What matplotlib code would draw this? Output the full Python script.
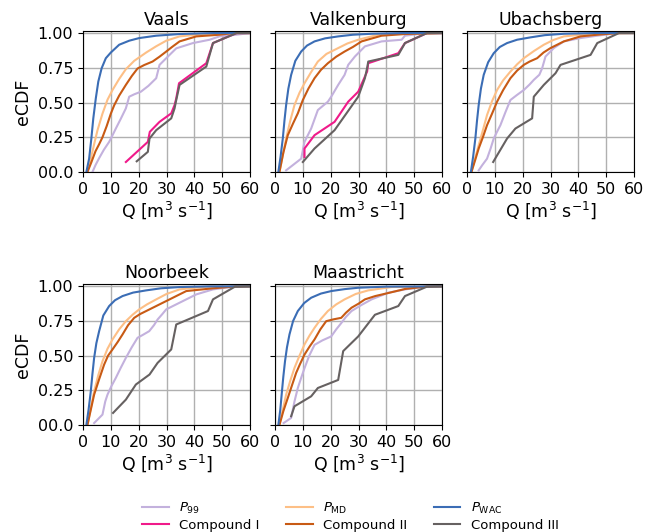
import matplotlib
matplotlib.use("Agg")
import matplotlib.pyplot as plt

# ---------------- data (Q in m3/s, eCDF) ----------------
sites = ["Vaals", "Valkenburg", "Ubachsberg", "Noorbeek", "Maastricht"]

# Vaals
vaals_p99_q = [3.4, 4.5, 5.8, 7.5, 9.4, 10.5, 11.8, 13.5, 15.4, 16.6, 18.5, 20.8, 23.5, 26.3, 27.5, 29.9, 33.5, 39.5, 45.5, 49.0, 55.0, 60.0]
vaals_p99_f = [0.0, 0.05, 0.10, 0.16, 0.217, 0.26, 0.313, 0.38, 0.458, 0.542, 0.56, 0.578, 0.62, 0.675, 0.771, 0.819, 0.89, 0.928, 0.952, 0.976, 0.988, 1.0]
vaals_c1_q = [15.4, 23.3, 24.0, 27.5, 31.7, 32.9, 33.5, 34.5, 44.3, 46.7, 55.2, 60.0]
vaals_c1_f = [0.072, 0.217, 0.289, 0.361, 0.422, 0.482, 0.53, 0.639, 0.783, 0.928, 1.0, 1.0]
vaals_md_q = [1.6, 2.8, 4.0, 5.2, 7.0, 8.8, 10.6, 13.0, 15.4, 18.4, 22.7, 26.3, 29.9, 34.7, 43.0, 54.0, 60.0]
vaals_md_f = [0.0, 0.096, 0.20, 0.30, 0.42, 0.52, 0.59, 0.67, 0.74, 0.80, 0.86, 0.905, 0.945, 0.976, 0.993, 1.0, 1.0]
vaals_c2_q = [1.6, 3.0, 4.5, 5.8, 7.0, 8.5, 10.0, 11.2, 13.0, 15.4, 17.5, 19.6, 22.0, 25.0, 27.5, 29.9, 32.0, 34.7, 40.7, 49.0, 54.0, 60.0]
vaals_c2_f = [0.0, 0.07, 0.15, 0.20, 0.25, 0.33, 0.42, 0.48, 0.55, 0.627, 0.69, 0.745, 0.77, 0.795, 0.83, 0.867, 0.90, 0.94, 0.976, 0.988, 1.0, 1.0]
vaals_wac_q = [1.2, 2.2, 3.0, 3.7, 4.6, 5.5, 6.7, 8.2, 10.0, 13.0, 16.6, 20.2, 26.3, 34.7, 46.7, 62.0]
vaals_wac_f = [0.0, 0.096, 0.241, 0.386, 0.53, 0.651, 0.747, 0.819, 0.86, 0.916, 0.945, 0.964, 0.981, 0.993, 1.0, 1.0]
vaals_c3_q = [19.3, 23.3, 23.9, 26.3, 31.7, 32.9, 33.5, 34.7, 44.3, 46.7, 55.2, 60.0]
vaals_c3_f = [0.077, 0.145, 0.241, 0.301, 0.386, 0.458, 0.518, 0.627, 0.759, 0.928, 1.0, 1.0]

# Valkenburg
valk_p99_q = [4.0, 9.4, 10.6, 13.0, 15.4, 19.0, 20.2, 22.7, 25.0, 26.3, 28.7, 32.3, 38.3, 45.5, 46.7, 54.0, 60.0]
valk_p99_f = [0.012, 0.096, 0.217, 0.313, 0.446, 0.506, 0.542, 0.627, 0.699, 0.771, 0.831, 0.904, 0.94, 0.952, 0.981, 1.0, 1.0]
valk_c1_q = [10.6, 10.6, 14.2, 21.4, 26.3, 29.9, 32.3, 33.1, 33.5, 44.3, 46.7, 54.6, 60.0]
valk_c1_f = [0.108, 0.169, 0.265, 0.361, 0.506, 0.578, 0.687, 0.723, 0.783, 0.855, 0.928, 1.0, 1.0]
valk_md_q = [1.6, 2.8, 4.0, 5.5, 7.0, 8.8, 10.6, 13.0, 15.4, 18.5, 22.7, 26.0, 29.9, 37.1, 46.7, 60.0]
valk_md_f = [0.0, 0.12, 0.241, 0.37, 0.482, 0.57, 0.639, 0.72, 0.795, 0.85, 0.892, 0.925, 0.952, 0.988, 0.998, 1.0]
valk_c2_q = [1.6, 3.0, 4.6, 6.5, 8.2, 10.0, 12.0, 14.2, 16.5, 19.0, 22.0, 25.0, 28.0, 31.1, 38.3, 46.7, 60.0]
valk_c2_f = [0.0, 0.14, 0.265, 0.35, 0.422, 0.518, 0.60, 0.675, 0.735, 0.783, 0.83, 0.867, 0.90, 0.94, 0.981, 0.993, 1.0]
valk_wac_q = [1.2, 2.0, 2.8, 3.4, 4.0, 4.8, 5.8, 7.3, 9.4, 11.5, 14.2, 18.0, 22.7, 28.0, 34.7, 46.0, 62.0]
valk_wac_f = [0.0, 0.11, 0.241, 0.37, 0.482, 0.60, 0.699, 0.80, 0.867, 0.91, 0.94, 0.962, 0.976, 0.988, 0.995, 1.0, 1.0]
valk_c3_q = [10.0, 14.2, 21.4, 29.9, 32.3, 33.2, 33.5, 44.3, 46.7, 54.6, 60.0]
valk_c3_f = [0.072, 0.169, 0.301, 0.542, 0.675, 0.759, 0.795, 0.843, 0.928, 1.0, 1.0]

# Ubachsberg
ubach_p99_q = [4.2, 5.5, 7.2, 8.5, 9.6, 10.8, 12.0, 13.8, 15.6, 18.0, 20.4, 22.5, 24.0, 26.0, 27.0, 28.2, 31.2, 34.8, 40.8, 46.8, 54.0, 60.0]
ubach_p99_f = [0.012, 0.05, 0.096, 0.17, 0.241, 0.29, 0.337, 0.43, 0.518, 0.555, 0.59, 0.63, 0.663, 0.70, 0.747, 0.831, 0.892, 0.94, 0.964, 0.981, 1.0, 1.0]
ubach_md_q = [1.6, 2.8, 4.2, 5.7, 7.2, 9.0, 10.8, 13.0, 15.6, 18.0, 20.4, 24.0, 27.6, 31.0, 34.8, 44.4, 60.0]
ubach_md_f = [0.0, 0.09, 0.193, 0.30, 0.41, 0.51, 0.59, 0.66, 0.723, 0.775, 0.819, 0.87, 0.916, 0.95, 0.976, 0.995, 1.0]
ubach_c2_q = [1.6, 3.0, 4.2, 5.7, 7.2, 9.0, 10.8, 13.0, 15.6, 18.0, 20.4, 22.5, 25.2, 27.5, 30.0, 34.8, 40.8, 46.8, 54.0, 60.0]
ubach_c2_f = [0.0, 0.09, 0.169, 0.25, 0.337, 0.42, 0.506, 0.59, 0.675, 0.73, 0.771, 0.795, 0.819, 0.86, 0.892, 0.94, 0.976, 0.988, 1.0, 1.0]
ubach_wac_q = [1.4, 2.2, 3.0, 3.6, 4.2, 5.0, 6.0, 7.6, 9.6, 11.8, 14.4, 18.0, 22.8, 28.0, 34.8, 46.0, 62.0]
ubach_wac_f = [0.0, 0.11, 0.241, 0.37, 0.482, 0.60, 0.699, 0.79, 0.855, 0.90, 0.928, 0.952, 0.969, 0.985, 0.995, 1.0, 1.0]
ubach_c3_q = [9.4, 14.4, 17.4, 23.4, 24.0, 27.6, 31.8, 33.6, 44.4, 46.8, 54.6, 60.0]
ubach_c3_f = [0.072, 0.241, 0.313, 0.386, 0.542, 0.627, 0.711, 0.771, 0.843, 0.928, 1.0, 1.0]

# Noorbeek
noor_p99_q = [4.0, 7.0, 8.0, 8.8, 10.2, 11.8, 13.5, 15.4, 17.5, 19.6, 21.5, 23.8, 25.5, 26.8, 28.5, 29.9, 34.7, 40.7, 46.7, 54.0, 60.0]
noor_p99_f = [0.014, 0.075, 0.17, 0.219, 0.28, 0.34, 0.41, 0.484, 0.56, 0.629, 0.65, 0.677, 0.72, 0.761, 0.80, 0.834, 0.882, 0.942, 0.978, 0.998, 1.0]
noor_md_q = [1.6, 2.8, 4.0, 5.5, 7.0, 8.8, 10.6, 13.0, 15.4, 17.8, 20.2, 23.0, 26.3, 30.0, 34.7, 44.3, 60.0]
noor_md_f = [0.0, 0.12, 0.243, 0.36, 0.46, 0.55, 0.617, 0.69, 0.749, 0.795, 0.834, 0.87, 0.906, 0.945, 0.978, 0.998, 1.0]
noor_c2_q = [1.6, 2.8, 4.0, 5.8, 7.6, 9.0, 10.6, 12.5, 14.2, 16.2, 18.4, 20.5, 22.7, 25.0, 27.5, 30.0, 32.3, 37.1, 46.7, 54.0, 60.0]
noor_c2_f = [0.0, 0.11, 0.219, 0.33, 0.436, 0.50, 0.545, 0.60, 0.653, 0.72, 0.773, 0.80, 0.822, 0.845, 0.87, 0.895, 0.918, 0.966, 0.986, 0.998, 1.0]
noor_wac_q = [1.2, 2.0, 2.8, 3.4, 4.0, 4.8, 5.8, 7.3, 9.4, 11.5, 14.2, 18.0, 22.7, 28.0, 34.7, 46.0, 62.0]
noor_wac_f = [0.0, 0.11, 0.243, 0.37, 0.484, 0.59, 0.677, 0.79, 0.858, 0.90, 0.93, 0.955, 0.971, 0.986, 0.995, 1.0, 1.0]
noor_c3_q = [10.8, 15.4, 19.0, 23.9, 26.8, 31.7, 33.5, 44.9, 46.7, 54.6, 60.0]
noor_c3_f = [0.087, 0.183, 0.292, 0.364, 0.448, 0.545, 0.725, 0.822, 0.906, 0.998, 1.0]

# Maastricht
maas_p99_q = [3.1, 5.8, 7.0, 8.2, 9.4, 10.6, 12.3, 14.2, 17.0, 20.2, 22.0, 23.8, 25.5, 27.5, 31.0, 34.7, 40.7, 46.7, 54.0, 60.0]
maas_p99_f = [0.014, 0.051, 0.17, 0.267, 0.34, 0.41, 0.50, 0.578, 0.61, 0.639, 0.69, 0.735, 0.78, 0.822, 0.865, 0.906, 0.954, 0.978, 0.998, 1.0]
maas_md_q = [1.6, 2.8, 4.0, 5.5, 7.0, 8.8, 10.6, 12.4, 14.2, 16.5, 19.0, 22.0, 25.0, 29.0, 33.5, 41.9, 60.0]
maas_md_f = [0.0, 0.11, 0.219, 0.32, 0.412, 0.50, 0.581, 0.645, 0.701, 0.765, 0.822, 0.87, 0.906, 0.945, 0.971, 0.995, 1.0]
maas_c2_q = [1.6, 3.0, 4.6, 6.0, 7.6, 9.0, 10.6, 12.4, 14.2, 16.3, 18.4, 21.0, 23.8, 25.5, 27.5, 30.0, 32.3, 36.0, 40.7, 46.7, 54.0, 60.0]
maas_c2_f = [0.0, 0.10, 0.195, 0.28, 0.376, 0.44, 0.508, 0.565, 0.617, 0.69, 0.749, 0.762, 0.773, 0.81, 0.846, 0.875, 0.906, 0.93, 0.952, 0.981, 0.998, 1.0]
maas_wac_q = [1.2, 1.9, 2.5, 3.0, 3.6, 4.3, 5.2, 6.5, 8.2, 10.5, 13.0, 16.5, 20.2, 25.0, 29.9, 40.0, 62.0]
maas_wac_f = [0.0, 0.11, 0.243, 0.35, 0.46, 0.56, 0.653, 0.75, 0.822, 0.88, 0.918, 0.948, 0.966, 0.98, 0.99, 0.998, 1.0]
maas_c3_q = [5.8, 7.0, 13.0, 15.4, 22.7, 24.5, 29.9, 35.9, 44.3, 46.7, 54.6, 60.0]
maas_c3_f = [0.063, 0.135, 0.207, 0.267, 0.325, 0.533, 0.639, 0.795, 0.858, 0.93, 0.998, 1.0]

series_labels = [r"$P_{99}$", "Compound I", r"$P_{\mathrm{MD}}$", "Compound II",
                 r"$P_{\mathrm{WAC}}$", "Compound III"]
series_colors = ["#c3b1dd", "#f01a8a", "#fdbf86", "#c85a14", "#3b6db5", "#666161"]

site_data = {
    "Vaals": [(vaals_p99_q, vaals_p99_f), (vaals_c1_q, vaals_c1_f), (vaals_md_q, vaals_md_f),
              (vaals_c2_q, vaals_c2_f), (vaals_wac_q, vaals_wac_f), (vaals_c3_q, vaals_c3_f)],
    "Valkenburg": [(valk_p99_q, valk_p99_f), (valk_c1_q, valk_c1_f), (valk_md_q, valk_md_f),
                   (valk_c2_q, valk_c2_f), (valk_wac_q, valk_wac_f), (valk_c3_q, valk_c3_f)],
    "Ubachsberg": [(ubach_p99_q, ubach_p99_f), None, (ubach_md_q, ubach_md_f),
                   (ubach_c2_q, ubach_c2_f), (ubach_wac_q, ubach_wac_f), (ubach_c3_q, ubach_c3_f)],
    "Noorbeek": [(noor_p99_q, noor_p99_f), None, (noor_md_q, noor_md_f),
                 (noor_c2_q, noor_c2_f), (noor_wac_q, noor_wac_f), (noor_c3_q, noor_c3_f)],
    "Maastricht": [(maas_p99_q, maas_p99_f), None, (maas_md_q, maas_md_f),
                   (maas_c2_q, maas_c2_f), (maas_wac_q, maas_wac_f), (maas_c3_q, maas_c3_f)],
}

x_ticks = [0, 10, 20, 30, 40, 50, 60]
y_ticks = [0.0, 0.25, 0.5, 0.75, 1.0]
y_ticklabels = ["00.0", "0.25", "0.50", "0.75", "1.00"]

# ---------------- figure ----------------
W, H = 655, 532
fig = plt.figure(figsize=(W / 100, H / 100), dpi=100)

col_left = [83, 275, 467]
ax_w = 167
rows = [(30.7, 172), (284, 425)]

handles = [None] * 6
for i, site in enumerate(sites):
    r, c = divmod(i, 3)
    top, bot = rows[r]
    ax = fig.add_axes([col_left[c] / W, 1 - bot / H, ax_w / W, (bot - top) / H])
    for k, d in enumerate(site_data[site]):
        if d is None:
            continue
        ln, = ax.plot(d[0], d[1], color=series_colors[k], lw=1.5, label=series_labels[k])
        if handles[k] is None:
            handles[k] = ln
    ax.set_xlim(0, 60)
    ax.set_ylim(0, 1.017)
    ax.set_xticks(x_ticks)
    ax.set_yticks(y_ticks)
    ax.grid(True, color="#b0b0b0", lw=1.0)
    ax.set_axisbelow(True)
    ax.tick_params(labelsize=11.5)
    if c == 0:
        ax.set_yticklabels(y_ticklabels)
        ax.set_ylabel("eCDF", fontsize=12.5)
    else:
        ax.set_yticklabels([])
    ax.set_xlabel(r"Q [m$^3$ s$^{-1}$]", fontsize=12.5, labelpad=2)
    ax.set_title(site, fontsize=12.5, pad=4)

fig.legend(handles, series_labels, loc="lower center", bbox_to_anchor=(0.535, -0.022),
           ncol=3, frameon=False, fontsize=9.5, columnspacing=2.0, handlelength=2.0,
           labelspacing=0.25)

fig.savefig("out.png", dpi=100)
